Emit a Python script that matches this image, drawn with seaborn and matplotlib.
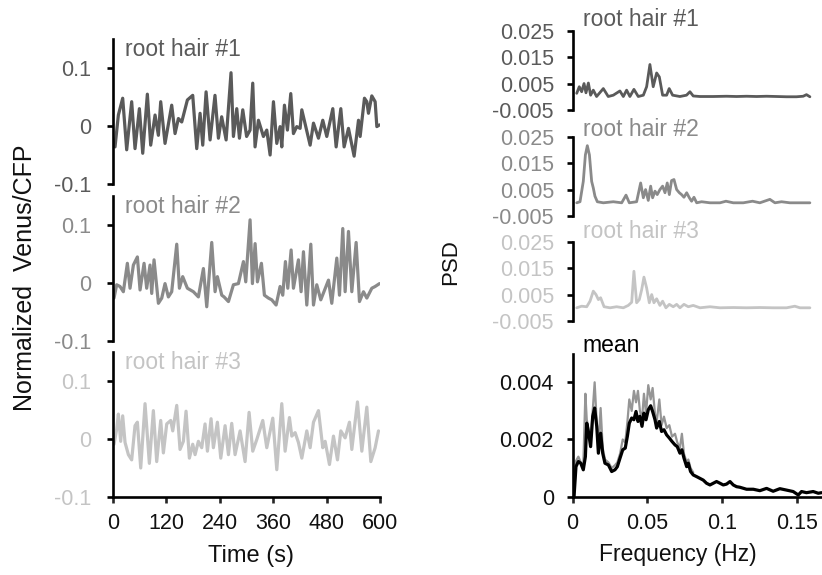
import matplotlib
matplotlib.use("Agg")
import matplotlib.pyplot as plt
import seaborn as sns
import pandas as pd

# time courses (s, normalized Venus/CFP)
t1 = [4.5, 12, 21.7, 30.7, 41.9, 49.4, 59.2, 66.7, 77.1, 84.6, 94.4, 101.9, 107.1, 116.8, 131.8,
      139.3, 146.8, 154.3, 167, 179, 188, 195.5, 201.5, 209, 218, 229, 236.7, 244, 254, 265,
      270.4, 277.9, 283.9, 291.4, 300, 307.8, 313.8, 319, 326.6, 337.8, 345.3, 352.8, 360.3,
      367.8, 375.2, 379, 385, 391.7, 399.2, 405.2, 412.7, 420.2, 424, 442.7, 450.2, 461.4,
      471.1, 480.1, 493.6, 501.1, 511.6, 519, 528.8, 541.5, 551.3, 555, 564.7, 570, 573.7,
      581.2, 588.7, 592.5, 598.5]
v1 = [-0.036, 0.019, 0.048, -0.041, 0.042, -0.039, 0.030, -0.047, 0.055, -0.033, 0.019, -0.016,
      0.042, -0.030, 0.036, -0.013, 0.013, 0.007, 0.045, 0.053, -0.039, 0.022, -0.033, 0.059,
      -0.024, 0.053, -0.021, 0.016, -0.024, 0.092, -0.018, 0.030, -0.021, 0.028, -0.018, -0.007,
      0.074, -0.036, 0.010, -0.018, -0.007, -0.050, 0.042, -0.030, -0.001, -0.036, 0.036, -0.007,
      0.056, -0.013, -0.001, -0.004, 0.028, -0.033, 0.005, -0.021, 0.010, -0.018, 0.030, -0.036,
      0.030, -0.036, -0.004, -0.052, 0.010, -0.018, 0.048, 0.042, 0.022, 0.052, 0.042, -0.001,
      0.002]

t2 = [2.2, 8.2, 15.7, 23.2, 32.2, 38.2, 45.7, 54.7, 60.7, 69.7, 75.6, 83.1, 86.9, 92.1, 101.9,
      109.4, 116.8, 124.3, 131.8, 143.1, 149.1, 156.5, 167, 180.5, 191.7, 203, 210.5, 221.7,
      229.2, 234.4, 244.2, 249.4, 259.2, 270.4, 281.6, 292.9, 298.1, 307.8, 313.1, 319.1, 324.3,
      333.3, 340, 349, 356.5, 366.3, 375.2, 381.2, 387.2, 392.5, 400, 405.2, 416.4, 422.4,
      427.7, 435.2, 444.2, 450.2, 457.6, 466.6, 483.9, 491.3, 502.6, 508.6, 516, 521.3, 528.8,
      536.3, 546, 553.5, 562.5, 570, 581.2, 588.7, 598.5]
v2 = [-0.026, -0.003, -0.006, -0.015, 0.034, -0.009, 0.031, 0.045, -0.012, 0.034, -0.009, 0.031,
      -0.018, 0.040, -0.035, -0.026, -0.001, -0.024, -0.015, 0.067, -0.009, 0.011, -0.009,
      -0.015, -0.024, 0.025, -0.041, 0.070, -0.015, 0.011, -0.021, -0.024, -0.032, -0.003,
      -0.001, 0.037, 0.002, 0.109, -0.001, 0.068, 0.002, 0.034, -0.021, -0.026, -0.029, -0.038,
      -0.006, -0.021, 0.037, -0.009, 0.057, -0.009, 0.040, -0.015, 0.054, -0.038, 0.067, -0.038,
      -0.003, -0.029, 0.005, -0.035, 0.043, -0.021, 0.094, -0.015, 0.089, -0.015, 0.070, -0.032,
      -0.015, -0.026, -0.009, -0.006, -0.001]

t3 = [2.2, 8.2, 12, 17.2, 21.7, 27, 34.5, 41.9, 49.4, 54.7, 62.2, 71.9, 81.6, 90.6, 98.1, 107.1,
      113.1, 120.6, 129.6, 134.1, 143.1, 150.5, 158, 164, 171.5, 179, 184.3, 191.7, 199.2,
      206.7, 212, 220.2, 225.4, 234.4, 242, 251.7, 259.2, 266.6, 274.1, 285.4, 296.6, 305.6,
      313.8, 322.8, 336.3, 345.3, 358.8, 367.8, 379, 386.5, 396.2, 401.5, 409, 416.4, 424,
      435.2, 442.7, 450.2, 461.4, 471.1, 476.4, 486.1, 495.1, 504.1, 511.6, 521.3, 531, 536.3,
      549, 558.8, 570, 579, 588.7, 596.2]
v3 = [-0.009, 0.017, 0.043, -0.004, 0.040, -0.006, -0.027, -0.036, 0.023, 0.029, -0.050, 0.061,
      -0.042, 0.049, -0.039, 0.032, -0.024, 0.026, 0.032, 0.014, 0.058, -0.018, -0.004, 0.048,
      -0.033, -0.009, -0.027, -0.004, -0.015, 0.026, -0.021, 0.035, -0.015, 0.029, -0.033,
      0.023, -0.027, 0.027, -0.027, 0.014, -0.039, 0.046, -0.021, -0.001, 0.032, -0.015, 0.036,
      -0.053, 0.061, -0.021, 0.037, 0.005, 0.011, -0.006, -0.033, 0.014, -0.015, 0.029, 0.049,
      -0.015, -0.004, -0.044, 0.005, -0.036, 0.014, 0.002, 0.029, -0.018, 0.064, -0.021, 0.055,
      -0.039, -0.015, 0.014]

# power spectra (Hz, PSD)
f1 = [0.0027, 0.0044, 0.0060, 0.0076, 0.0089, 0.0105, 0.0120, 0.0138, 0.0160, 0.0205, 0.0238,
      0.0272, 0.0316, 0.0339, 0.0361, 0.0383, 0.0410, 0.0439, 0.0473, 0.0495, 0.0517, 0.0539,
      0.0562, 0.0580, 0.0602, 0.0629, 0.0646, 0.0669, 0.0718, 0.0762, 0.0785, 0.0807, 0.0852,
      0.0941, 0.1030, 0.1097, 0.1164, 0.1231, 0.1298, 0.1365, 0.1431, 0.1498, 0.1543, 0.1565,
      0.1588]
p1 = [0.0013, 0.0038, 0.0019, 0.0050, 0.0015, 0.0052, 0.0006, 0.0025, 0.0001, 0.0031, 0.0001,
      0.0006, 0.0022, 0.0001, 0.0025, 0.0001, 0.0028, 0.0001, 0.0006, 0.0038, 0.0122, 0.0038,
      0.0090, 0.0075, 0.0006, 0.0006, 0.0031, 0.0006, 0.0001, 0.0006, 0.0019, 0.0003, 0.0001,
      0.0001, 0.0002, 0.0001, 0.0002, 0.0001, 0.0002, 0.0001, 0.0, 0.0, 0.0002, 0.0008, 0.0]

f2 = [0.0027, 0.0049, 0.0071, 0.0085, 0.0098, 0.0112, 0.0127, 0.0138, 0.0149, 0.0165, 0.0205,
      0.0272, 0.0328, 0.0357, 0.0379, 0.0428, 0.0455, 0.0473, 0.0488, 0.0506, 0.0522, 0.0535,
      0.0551, 0.0566, 0.0584, 0.0602, 0.0618, 0.0633, 0.0647, 0.0662, 0.0678, 0.0696, 0.0714,
      0.0729, 0.0745, 0.0763, 0.0781, 0.0796, 0.0812, 0.0830, 0.0863, 0.0919, 0.0986, 0.1026,
      0.1075, 0.1142, 0.1204, 0.1253, 0.1320, 0.1354, 0.1398, 0.1454, 0.1521, 0.1588]
p2 = [0.0, 0.0004, 0.0081, 0.0181, 0.0216, 0.0181, 0.0081, 0.0056, 0.0025, 0.0004, 0.0, 0.0004,
      0.0, 0.0029, 0.0, 0.0004, 0.0075, 0.0019, 0.0050, 0.0009, 0.0063, 0.0019, 0.0044, 0.0031,
      0.0050, 0.0063, 0.0038, 0.0075, 0.0031, 0.0084, 0.0088, 0.0050, 0.0038, 0.0031, 0.0021,
      0.0038, 0.0019, 0.0006, 0.0021, 0.0, 0.0004, 0.0, 0.0, 0.0006, 0.0, 0.0, 0.0006, 0.0,
      0.0013, 0.0, 0.0004, 0.0, 0.0, 0.0]

f3 = [0.0027, 0.0060, 0.0094, 0.0116, 0.0138, 0.0156, 0.0172, 0.0187, 0.0210, 0.0250, 0.0294,
      0.0339, 0.0372, 0.0395, 0.0410, 0.0428, 0.0446, 0.0462, 0.0477, 0.0495, 0.0513, 0.0529,
      0.0544, 0.0562, 0.0584, 0.0602, 0.0624, 0.0647, 0.0673, 0.0696, 0.0718, 0.0745, 0.0774,
      0.0807, 0.0852, 0.0919, 0.0986, 0.1075, 0.1164, 0.1253, 0.1342, 0.1432, 0.1487, 0.1521,
      0.1588]
p3 = [0.0, 0.0006, 0.0004, 0.0025, 0.0063, 0.0050, 0.0031, 0.0038, 0.0004, 0.0, 0.0004, 0.0,
      0.0009, 0.0021, 0.0138, 0.0019, 0.0031, 0.0069, 0.0116, 0.0075, 0.0019, 0.0050, 0.0019,
      0.0034, 0.0009, 0.0025, 0.0, 0.0013, 0.0004, 0.0013, 0.0, 0.0013, 0.0004, 0.0009, 0.0,
      0.0004, 0.0, 0.0001, 0.0, 0.0001, 0.0, 0.0, 0.0006, 0.0, 0.0]

# mean PSD and its upper (gray) trace
fm = [0.0009, 0.0022, 0.0038, 0.0054, 0.0071, 0.0085, 0.0094, 0.0105, 0.0120, 0.0134, 0.0147,
      0.0161, 0.0172, 0.0187, 0.0201, 0.0216, 0.0239, 0.0261, 0.0283, 0.0299, 0.0317, 0.0335,
      0.0352, 0.0366, 0.0379, 0.0395, 0.0410, 0.0424, 0.0437, 0.0450, 0.0464, 0.0477, 0.0491,
      0.0506, 0.0522, 0.0535, 0.0551, 0.0562, 0.0580, 0.0595, 0.0611, 0.0629, 0.0647, 0.0665,
      0.0685, 0.0700, 0.0718, 0.0731, 0.0745, 0.0763, 0.0774, 0.0789, 0.0807, 0.0830, 0.0852,
      0.0874, 0.0896, 0.0919, 0.0941, 0.0963, 0.0986, 0.1008, 0.1030, 0.1053, 0.1075, 0.1097,
      0.1119, 0.1164, 0.1209, 0.1253, 0.1298, 0.1342, 0.1387, 0.1432, 0.1476, 0.1510, 0.1532,
      0.1565, 0.1610, 0.1644, 0.1666]
pm = [0.0, 0.00105, 0.00123, 0.00117, 0.00094, 0.0014, 0.00257, 0.00228, 0.00175, 0.00281,
      0.0031, 0.00246, 0.00152, 0.00222, 0.00152, 0.00117, 0.00111, 0.00088, 0.00094, 0.00105,
      0.00135, 0.00164, 0.0017, 0.00211, 0.00257, 0.00275, 0.00269, 0.00298, 0.00263, 0.00281,
      0.00246, 0.00292, 0.00269, 0.00304, 0.00318, 0.00298, 0.00269, 0.0024, 0.00263, 0.00228,
      0.00234, 0.00216, 0.00205, 0.00193, 0.00181, 0.00175, 0.00152, 0.00164, 0.00135, 0.00105,
      0.00117, 0.00088, 0.00076, 0.0007, 0.00064, 0.00058, 0.00047, 0.00041, 0.00047, 0.00053,
      0.00047, 0.00041, 0.00044, 0.00053, 0.00041, 0.00035, 0.00033, 0.00026, 0.00026, 0.00021,
      0.00029, 0.00019, 0.00028, 0.00023, 0.00018, 0.00006, 0.00018, 0.00014, 0.00018, 0.00012,
      0.00014]
fu = fm[:53]
pu = [0.0, 0.00125, 0.0014, 0.0012, 0.0011, 0.0036, 0.0027, 0.0024, 0.0019, 0.0030, 0.0040,
      0.0026, 0.0017, 0.0031, 0.0017, 0.0013, 0.0012, 0.0010, 0.0011, 0.0012, 0.0015, 0.0020,
      0.0019, 0.0026, 0.0034, 0.0030, 0.0037, 0.0033, 0.0037, 0.0030, 0.0027, 0.0036, 0.0029,
      0.0039, 0.0034, 0.0038, 0.0029, 0.0026, 0.0034, 0.0025, 0.0028, 0.0024, 0.0025, 0.0021,
      0.0022, 0.0019, 0.0017, 0.0022, 0.0015, 0.0012, 0.0013, 0.0010, 0.00085]

labels = ["root hair #1", "root hair #2", "root hair #3"]
colors = ["#5a5a5a", "#8a8a8a", "#c4c4c4"]

sns.set_style("white")
plt.rcParams["font.family"] = ["Liberation Sans", "DejaVu Sans"]
plt.rcParams["axes.unicode_minus"] = False

fig = plt.figure(figsize=(8.22, 5.75), dpi=100)

SW = 1.9   # spine / tick width
TS = 15.5  # tick label size
LS = 16.5  # label size

def style_left(ax, color, bottom=False):
    for s in ["top", "right"]:
        ax.spines[s].set_visible(False)
    ax.spines["left"].set_linewidth(SW)
    ax.spines["left"].set_color("black")
    ax.spines["bottom"].set_visible(bottom)
    ax.tick_params(axis="y", length=4.5, width=SW, pad=11, labelsize=TS,
                   labelcolor=color, color="black", left=True)
    ax.set_xlabel("")
    ax.set_ylabel("")

# ---- time courses ----
left_bottoms = [0.680, 0.407, 0.1357]
series = [(t1, v1), (t2, v2), (t3, v3)]
for i, ((t, v), b) in enumerate(zip(series, left_bottoms)):
    ax = fig.add_axes([0.1375, b, 0.325, 0.252])
    df = pd.DataFrame({"t": t, "v": v})
    sns.lineplot(data=df, x="t", y="v", ax=ax, color=colors[i], lw=2.3,
                 estimator=None, sort=False)
    ax.set_xlim(0, 600)
    ax.set_ylim(-0.1, 0.15)
    ax.set_yticks([-0.1, 0, 0.1])
    ax.set_yticklabels(["-0.1", "0", "0.1"])
    ax.spines["left"].set_bounds(-0.1, 0.15)
    last = i == 2
    style_left(ax, colors[i], bottom=last)
    if last:
        ax.spines["bottom"].set_linewidth(SW)
        ax.spines["bottom"].set_color("black")
        ax.set_xticks([0, 120, 240, 360, 480, 600])
        ax.tick_params(axis="x", length=4.5, width=SW, pad=7, labelsize=TS,
                       labelcolor="#111111", bottom=True)
    else:
        ax.set_xticks([])
    ax.text(0.045, 0.925, labels[i], transform=ax.transAxes, color=colors[i],
            fontsize=LS, va="center", ha="left")

# ---- individual spectra ----
right_bottoms = [0.8087, 0.6243, 0.4417]
title_y = [1.135, 1.085, 1.126]
spectra = [(f1, p1), (f2, p2), (f3, p3)]
for i, ((f, p), b) in enumerate(zip(spectra, right_bottoms)):
    ax = fig.add_axes([0.6967, b, 0.3033, 0.138])
    df = pd.DataFrame({"f": f, "p": p})
    sns.lineplot(data=df, x="f", y="p", ax=ax, color=colors[i], lw=2.0,
                 estimator=None, sort=False)
    ax.set_xlim(0, 0.1669)
    ax.set_ylim(-0.005, 0.025)
    ax.set_yticks([-0.005, 0.005, 0.015, 0.025])
    ax.set_yticklabels(["-0.005", "0.005", "0.015", "0.025"])
    ax.spines["left"].set_bounds(-0.005, 0.025)
    ax.set_xticks([])
    style_left(ax, colors[i])
    ax.tick_params(axis="y", pad=9)
    ax.text(0.041, title_y[i], labels[i], transform=ax.transAxes, color=colors[i],
            fontsize=LS, va="center", ha="left")

# ---- mean spectrum ----
ax = fig.add_axes([0.6967, 0.1362, 0.3033, 0.2487])
sns.lineplot(data=pd.DataFrame({"f": fu, "p": pu}), x="f", y="p", ax=ax,
             color="#959595", lw=1.6, estimator=None, sort=False)
sns.lineplot(data=pd.DataFrame({"f": fm, "p": pm}), x="f", y="p", ax=ax,
             color="black", lw=2.3, estimator=None, sort=False)
ax.set_xlim(0, 0.1669)
ax.set_ylim(0, 0.005)
ax.set_yticks([0, 0.002, 0.004])
ax.set_yticklabels(["0", "0.002", "0.004"])
ax.set_xticks([0, 0.05, 0.1, 0.15])
ax.set_xticklabels(["0", "0.05", "0.1", "0.15"])
style_left(ax, "#111111", bottom=True)
ax.tick_params(axis="y", pad=9)
ax.spines["bottom"].set_linewidth(SW)
ax.spines["bottom"].set_color("black")
ax.tick_params(axis="x", length=4.5, width=SW, pad=7, labelsize=TS,
               labelcolor="#111111", bottom=True)
ax.text(0.041, 1.06, "mean", transform=ax.transAxes, color="black",
        fontsize=LS, va="center", ha="left")

# ---- axis titles ----
fig.text(0.030, 0.517, "Normalized  Venus/CFP", rotation=90, ha="center",
         va="center", fontsize=18, color="#111111")
fig.text(0.548, 0.545, "PSD", rotation=90, ha="center", va="center",
         fontsize=16, color="#111111")
fig.text(0.305, 0.033, "Time (s)", ha="center", va="center", fontsize=17,
         color="#111111")
fig.text(0.824, 0.036, "Frequency (Hz)", ha="center", va="center",
         fontsize=16.5, color="#111111")

fig.savefig("out.png", dpi=100)
